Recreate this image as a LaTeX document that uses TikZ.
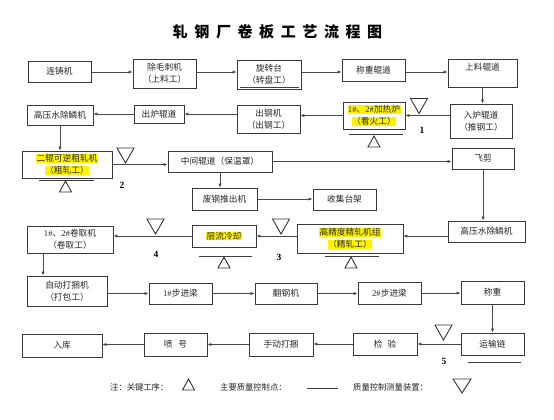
\documentclass[tikz,border=0pt]{standalone}
\usepackage{fontspec}
\setmainfont{Liberation Serif}
\newfontfamily\cjk{Noto Sans CJK SC}
\usetikzlibrary{arrows.meta,calc}
\newcommand\hl[1]{{\setlength{\fboxsep}{0.4bp}\colorbox{yellow}{#1}}}
\newcommand\bx[6][]{\node[box,#1,minimum width={(#4-#2)*1bp},minimum height={(#5-#3)*1bp}] (#6) at ({(#2+#4)/2},{(#3+#5)/2})}
\newcommand\nm[1]{{\rmfamily #1}}
\begin{document}
\begin{tikzpicture}[x=1bp,y=-1bp,
  box/.style={draw=black!78, line width=0.8bp, font=\cjk\fontsize{8.7bp}{11.8bp}\selectfont, align=center, inner sep=0pt, text=black!85},
  arr/.style={draw=black!72, line width=0.7bp, -{Latex[length=4bp,width=3.2bp]}},
  qline/.style={draw=black!75, line width=0.8bp},
  tri/.style={draw=black!80, line width=0.9bp, line join=miter},
  num/.style={font=\bfseries\fontsize{9.5bp}{10bp}\selectfont, inner sep=0pt},
  lg/.style={font=\cjk\fontsize{8.3bp}{9bp}\selectfont, inner sep=0pt, text=black!85},
  pics/tdn/.style={code={\draw[tri] (-8.5,0) -- (8.5,0) -- (0,15) -- cycle;}},
  pics/tup/.style={code={\draw[tri] (-6,11) -- (6,11) -- (0,0) -- cycle;}}
]
\fill[white] (0,0) rectangle (554,419);
\useasboundingbox (0,0) rectangle (554,419);

% title
\node[font=\cjk\bfseries\fontsize{15bp}{15bp}\selectfont, inner sep=0pt] (title) at (277.5,32)
 {轧\hspace{6.6bp}钢\hspace{6.6bp}厂\hspace{6.6bp}卷\hspace{6.6bp}板\hspace{6.6bp}工\hspace{6.6bp}艺\hspace{6.6bp}流\hspace{6.6bp}程\hspace{6.6bp}图};

% boxes
\bx{28}{61}{91}{82}{n1} {连铸机};
\bx{133}{59}{196}{88}{n2} {除毛刺机\\（上料工）};
\bx{237}{60}{301}{89}{n3} {旋转台\\（转盘工）};
\bx{342}{59}{405}{81}{n4} {称重辊道};
\bx{448}{59}{517}{87}{n5} {上料辊道\\ \mbox{}};
\bx{450}{104}{512}{138}{n6} {入炉辊道\\（推钢工）};
\bx{343}{102}{405}{129}{n7} {\hl{\nm{1\#}、\nm{2\#}加热炉}\\\hl{（看火工）}};
\bx{237}{105}{300}{133}{n8} {出钢机\\（出钢工）};
\bx{134}{105}{184}{123}{n9} {出炉辊道};
\bx{27}{105}{93}{125}{n10} {高压水除鳞机};
\bx{22}{151}{112}{178}{n11} {\hl{二辊可逆粗轧机}\\\hl{（粗轧工）}};
\bx{168}{151}{272}{172}{n12} {中间辊道（保温罩）};
\bx{452}{148}{514}{169}{n13} {飞剪};
\bx{192}{188}{257}{210}{n14} {废钢推出机};
\bx{313}{189}{376}{210}{n15} {收集台架};
\bx{448}{221}{525}{242}{n16} {高压水除鳞机};
\bx{297}{224}{403}{253}{n17} {\hl{高精度精轧机组}\\\hl{（精轧工）}};
\bx{192}{225}{256}{247}{n18} {\hl{层流冷却}};
\bx{27}{226}{113}{253}{n19} {\nm{1\#}、\nm{2\#}卷取机\\（卷取工）};
\bx{27}{276}{107}{306}{n20} {自动打捆机\\（打包工）};
\bx{149}{283}{212}{304}{n21} {\nm{1\#}步进梁};
\bx{255}{283}{317}{304}{n22} {翻钢机};
\bx{358}{282}{421}{304}{n23} {\nm{2\#}步进梁};
\bx{461}{281}{524}{304}{n24} {称重};
\bx{461}{333}{524}{355}{n25} {运输链};
\bx{353}{333}{417}{355}{n26} {检\hspace{5bp}验};
\bx{249}{333}{313}{356}{n27} {手动打捆};
\bx{144}{333}{207}{356}{n28} {喷\hspace{6bp}号};
\bx{22}{334}{102}{357}{n29} {入库};

% helper coordinates
\coordinate (r1) at (0,72);
\coordinate (r3) at (0,236);
\coordinate (c43) at (43,0);

% connectors
\draw[arr] (n1.east |- r1) -- (n2.west |- r1);
\draw[arr] (n2.east |- r1) -- (n3.west |- r1);
\draw[arr] (n3.east |- r1) -- (n4.west |- r1);
\draw[arr] (n4.east |- r1) -- (n5.west |- r1);
\draw[arr] (n5.south) -- (n5.south |- n6.north);
\draw[arr] (n6.west |- n7) -- (n7.east);
\draw[arr] (n7.west) -- (n7.west -| n8.east);
\draw[arr] (n8.west |- n9) -- (n9.east);
\draw[arr] (n9.west) -- (n9.west -| n10.east);
\draw[arr] (n10.south) -- (n10.south |- n11.north);
\draw[arr] (n11.east) -- (n11.east -| n12.west);
\draw[arr] (n12.east) -- (n12.east -| n13.west);
\draw[arr] (n12.south) -- (n12.south |- n14.north);
\draw[arr] (n14.east) -- (n14.east -| n15.west);
\draw[arr] (n13.south) -- (n13.south |- n16.north);
\draw[arr] (n16.west |- r3) -- (n17.east |- r3);
\draw[arr] (n17.west |- n18) -- (n18.east);
\draw[arr] (n18.west) -- (n18.west -| n19.east);
\draw[arr] (n19.south -| c43) -- (n20.north -| c43);
\draw[arr] (n20.east |- n21) -- (n21.west);
\draw[arr] (n21.east) -- (n21.east -| n22.west);
\draw[arr] (n22.east) -- (n22.east -| n23.west);
\draw[arr] (n23.east) -- (n23.east -| n24.west);
\draw[arr] (n24.south) -- (n24.south |- n25.north);
\draw[arr] (n25.west) -- (n25.west -| n26.east);
\draw[arr] (n26.west) -- (n26.west -| n27.east);
\draw[arr] (n27.west) -- (n27.west -| n28.east);
\draw[arr] (n28.west) -- (n28.west -| n29.east);

% key-process / control-point marks
\draw[qline] (239.5,87.3) -- (298.5,87.3);
\draw[qline] (349,134) -- (403,134);
\pic at (374,136) {tup};
\draw[qline] (39,180) -- (94,180);
\pic at (65.5,181) {tup};
\draw[qline] (199,256) -- (252,256);
\pic at (224,257) {tup};
\draw[qline] (325,256) -- (379,256);
\pic at (351,257) {tup};
\draw[qline] (468,362) -- (521,362);

% measurement devices
\pic at (419,98.5) {tdn};
\pic at (125.5,148) {tdn};
\pic at (155.5,219) {tdn};
\pic at (281,219) {tdn};
\pic at (443.5,325) {tdn};

% numbers
\node[num] (k1) at (422,130) {1};
\node[num] (k2) at (122,185) {2};
\node[num] (k3) at (279,257) {3};
\node[num] (k4) at (156,254) {4};
\node[num] (k5) at (444,361) {5};

% legend
\node[lg, anchor=west] (lg1) at (110,387) {注：关键工序：};
\pic at (188.5,379) {tup};
\node[lg, anchor=west] (lg2) at (220,387) {主要质量控制点：};
\draw[qline] (307,388) -- (338,388);
\node[lg, anchor=west] (lg3) at (353,387) {质量控制测量装置：};
\draw[tri] (453,379) -- (471,379) -- (462,393) -- cycle;
\end{tikzpicture}
\end{document}
